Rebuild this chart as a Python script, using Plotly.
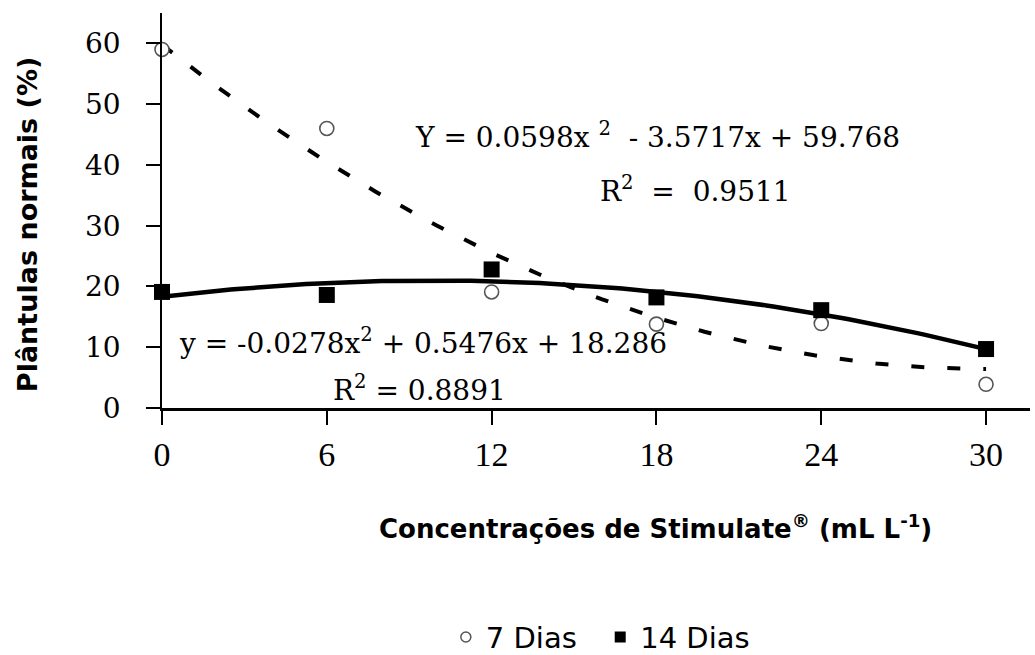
import numpy as np
import plotly.graph_objects as go

# Data
concentracoes = [0, 6, 12, 18, 24, 30]
dias7 = [59.0, 46.0, 19.1, 13.8, 13.9, 3.9]
dias14 = [19.1, 18.6, 22.8, 18.2, 16.1, 9.7]
x_ticks = [0, 6, 12, 18, 24, 30]
y_ticks = [0, 10, 20, 30, 40, 50, 60]

# Fitted quadratic coefficients shown on the chart (a, b, c) for a*x^2 + b*x + c
coef7 = [0.0598, -3.5717, 59.768]
coef14 = [-0.0278, 0.5476, 18.286]
eq7 = "Y = 0.0598x <sup>2</sup>  - 3.5717x + 59.768"
r7 = "R<sup>2</sup>  =  0.9511"
eq14 = "y = -0.0278x<sup>2</sup> + 0.5476x + 18.286"
r14 = "R<sup>2</sup> = 0.8891"
legend_names = ["7 Dias  ", "14 Dias"]

xs = np.linspace(0, 30, 121)
fit7 = np.polyval(coef7, xs)
fit14 = np.polyval(coef14, xs)

fig = go.Figure()
fig.add_trace(go.Scatter(x=xs, y=fit7, mode="lines", showlegend=False,
                         line=dict(color="black", width=4, dash="13px,23px")))
fig.add_trace(go.Scatter(x=xs, y=fit14, mode="lines", showlegend=False,
                         line=dict(color="black", width=4.5)))
fig.add_trace(go.Scatter(x=concentracoes, y=dias7, mode="markers", showlegend=False,
                         cliponaxis=False,
                         marker=dict(symbol="circle", size=14, color="white",
                                     line=dict(color="#555555", width=1.6))))
fig.add_trace(go.Scatter(x=concentracoes, y=dias14, mode="markers", showlegend=False,
                         cliponaxis=False,
                         marker=dict(symbol="square", size=16, color="black",
                                     line=dict(color="black", width=0))))
# legend entries (smaller symbols as in the reference)
fig.add_trace(go.Scatter(x=[None], y=[None], mode="markers", name=legend_names[0],
                         marker=dict(symbol="circle", size=10, color="white",
                                     line=dict(color="#555555", width=1.5))))
fig.add_trace(go.Scatter(x=[None], y=[None], mode="markers", name=legend_names[1],
                         marker=dict(symbol="square", size=11, color="black")))

serif = "DejaVu Serif"
sans = "DejaVu Sans"

annotations = [
    dict(x=18.05, y=44.9, text=eq7),
    dict(x=19.43, y=36.0, text=r7),
    dict(x=9.5, y=10.9, text=eq14),
    dict(x=9.39, y=3.2, text=r14),
]
for a in annotations:
    a.update(xref="x", yref="y", showarrow=False,
             font=dict(family=serif, size=28, color="black"),
             xanchor="center", yanchor="middle")

annotations.append(dict(xref="paper", yref="paper", x=0.568, y=-0.301,
                        text="Concentrações de Stimulate<sup>®</sup> (mL L<sup>-1</sup>)",
                        showarrow=False, xanchor="center", yanchor="middle",
                        font=dict(family=sans, size=26, color="black", weight="bold")))
annotations.append(dict(xref="paper", yref="paper", x=-0.1555, y=0.463,
                        text="Plântulas normais (%)", textangle=-90,
                        showarrow=False, xanchor="center", yanchor="middle",
                        font=dict(family=sans, size=27, color="black", weight="bold")))

fig.update_layout(
    width=1035, height=655,
    margin=dict(l=162, r=5, t=13, b=247, autoexpand=False),
    plot_bgcolor="white", paper_bgcolor="white",
    annotations=annotations,
    showlegend=True,
    legend=dict(orientation="h", x=0.505, xanchor="center", y=-0.58, yanchor="middle",
                font=dict(family=sans, size=29, color="black"),
                bgcolor="rgba(0,0,0,0)"),
    xaxis=dict(range=[0, 31.6], tickvals=x_ticks, ticktext=[str(v) for v in x_ticks],
               showgrid=False, zeroline=False, showline=True, linecolor="black", linewidth=2.5,
               ticks="outside", ticklen=14, tickwidth=2, tickcolor="black",
               ticklabelstandoff=0,
               tickfont=dict(family="Liberation Serif", size=34, color="black")),
    yaxis=dict(range=[0, 65], tickvals=y_ticks, ticktext=[str(v) for v in y_ticks],
               showgrid=False, zeroline=False, showline=True, linecolor="black", linewidth=1.5,
               ticks="outside", ticklen=14, tickwidth=2, tickcolor="black",
               ticklabelstandoff=20,
               tickfont=dict(family=serif, size=28, color="black")),
)

fig.write_html("out.html")
